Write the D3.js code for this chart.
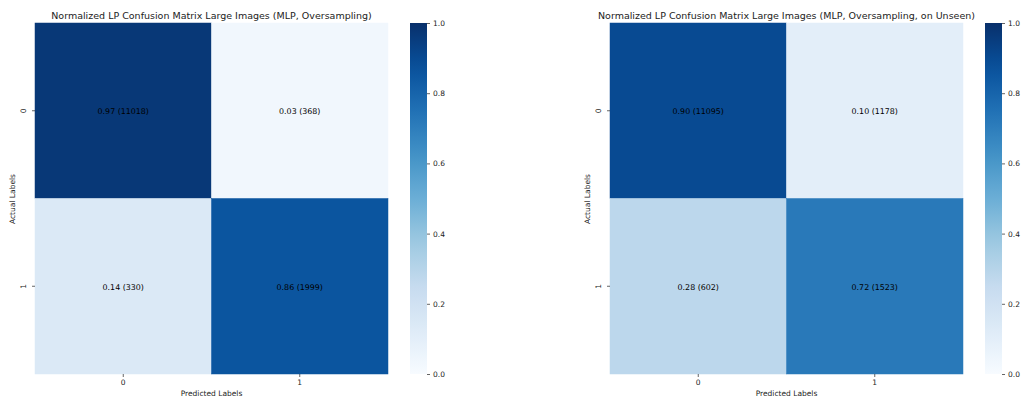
<!DOCTYPE html>
<html>
<head>
<meta charset="utf-8">
<script src="https://cdn.jsdelivr.net/npm/d3@7"></script>
<style>
  html, body { margin: 0; padding: 0; background: #fff; }
  svg { display: block; font-family: "DejaVu Sans", sans-serif; }
</style>
</head>
<body>
<svg id="chart" width="1021" height="400"></svg>
<script>
// Class labels for both axes
const classLabels = ["0", "1"];

// Left matrix: normalized rates and raw counts (rows = actual, cols = predicted)
const seenRates = [[0.97, 0.03], [0.14, 0.86]];
const seenCounts = [[11018, 368], [330, 1999]];

// Right matrix: evaluation on unseen data
const unseenRates = [[0.90, 0.10], [0.28, 0.72]];
const unseenCounts = [[11095, 1178], [602, 1523]];

const panelTitles = [
  "Normalized LP Confusion Matrix Large Images (MLP, Oversampling)",
  "Normalized LP Confusion Matrix Large Images (MLP, Oversampling, on Unseen)"
];

// Colour bar ticks
const colorbarTicks = [0.0, 0.2, 0.4, 0.6, 0.8, 1.0];

// "Blues" sequential palette, linearly interpolated between its nine stops
const bluesStops = ["#f7fbff", "#deebf7", "#c6dbef", "#9ecae1", "#6baed6",
                    "#4292c6", "#2171b5", "#08519c", "#08306b"];
const color = d3.scaleLinear()
  .domain(d3.range(bluesStops.length).map(i => i / (bluesStops.length - 1)))
  .range(bluesStops)
  .interpolate(d3.interpolateRgb)
  .clamp(true);

const svg = d3.select("#chart");

// Gradient for the colour bars
const defs = svg.append("defs");
const grad = defs.append("linearGradient")
  .attr("id", "bluesGrad")
  .attr("x1", 0).attr("y1", 1).attr("x2", 0).attr("y2", 0);
d3.range(0, 1.0001, 0.05).forEach(t => {
  grad.append("stop").attr("offset", t).attr("stop-color", color(t));
});

const panels = [
  { left: 35, rates: seenRates, counts: seenCounts, title: panelTitles[0], cbLeft: 410 },
  { left: 610, rates: unseenRates, counts: unseenCounts, title: panelTitles[1], cbLeft: 985 }
];

const plotTop = 23, plotH = 352, plotW = 353;
const cbWidth = 17;

panels.forEach(p => {
  const g = svg.append("g");
  const x = d3.scaleBand().domain(classLabels).range([p.left, p.left + plotW]);
  const y = d3.scaleBand().domain(classLabels).range([plotTop, plotTop + plotH - 1]);

  const cells = [];
  classLabels.forEach((a, i) => classLabels.forEach((pr, j) => {
    cells.push({ actual: a, predicted: pr, rate: p.rates[i][j], count: p.counts[i][j] });
  }));

  g.selectAll("rect.cell").data(cells).join("rect")
    .attr("class", "cell")
    .attr("x", d => x(d.predicted))
    .attr("y", d => y(d.actual))
    .attr("width", x.bandwidth())
    .attr("height", y.bandwidth())
    .attr("fill", d => color(d.rate))
    .attr("stroke", d => color(d.rate))
    .attr("stroke-width", 0.5);

  g.selectAll("text.annot").data(cells).join("text")
    .attr("class", "annot")
    .attr("x", d => x(d.predicted) + x.bandwidth() / 2)
    .attr("y", d => y(d.actual) + y.bandwidth() / 2 + 1)
    .attr("text-anchor", "middle")
    .attr("dominant-baseline", "central")
    .attr("font-size", 7.9)
    .attr("fill", "#000")
    .text(d => `${d.rate.toFixed(2)} (${d.count})`);

  // Axes
  const xAxis = d3.axisBottom(x).tickSize(3).tickPadding(3);
  const gx = g.append("g").attr("transform", `translate(0,${plotTop + plotH - 1})`).call(xAxis);
  gx.select(".domain").remove();
  gx.selectAll("text").attr("font-size", 7.5).attr("fill", "#222").attr("font-family", "DejaVu Sans");
  gx.selectAll("line").attr("stroke", "#222").attr("stroke-width", 0.7);

  const yAxis = d3.axisLeft(y).tickSize(3).tickPadding(3);
  const gy = g.append("g").attr("transform", `translate(${p.left},0)`).call(yAxis);
  gy.select(".domain").remove();
  gy.selectAll("text")
    .attr("font-size", 7.5).attr("fill", "#222").attr("font-family", "DejaVu Sans")
    .attr("text-anchor", "middle").attr("dy", null).attr("x", null)
    .attr("transform", "translate(-9,0) rotate(-90)");
  gy.selectAll("line").attr("stroke", "#222").attr("stroke-width", 0.7);

  // Axis titles
  g.append("text")
    .attr("x", p.left + plotW / 2).attr("y", plotTop + plotH + 21)
    .attr("text-anchor", "middle").attr("font-size", 7.5).attr("fill", "#222")
    .text("Predicted Labels");
  g.append("text")
    .attr("transform", `translate(${p.left - 20},${plotTop + plotH / 2}) rotate(-90)`)
    .attr("text-anchor", "middle").attr("font-size", 7.5).attr("fill", "#222")
    .text("Actual Labels");

  // Panel title
  g.append("text")
    .attr("x", p.left + plotW / 2).attr("y", plotTop - 4)
    .attr("text-anchor", "middle").attr("font-size", 9.5).attr("fill", "#222")
    .text(p.title);

  // Colour bar
  const cb = d3.scaleLinear().domain([0, 1]).range([plotTop + plotH - 1, plotTop]);
  g.append("rect")
    .attr("x", p.cbLeft).attr("y", plotTop)
    .attr("width", cbWidth).attr("height", plotH - 1)
    .attr("fill", "url(#bluesGrad)");
  const gc = g.append("g").attr("transform", `translate(${p.cbLeft + cbWidth},0)`)
    .call(d3.axisRight(cb).tickValues(colorbarTicks).tickFormat(d3.format(".1f")).tickSize(3).tickPadding(3));
  gc.select(".domain").remove();
  gc.selectAll("text").attr("font-size", 7.5).attr("fill", "#222").attr("font-family", "DejaVu Sans");
  gc.selectAll("line").attr("stroke", "#222").attr("stroke-width", 0.7);
});
</script>
</body>
</html>
